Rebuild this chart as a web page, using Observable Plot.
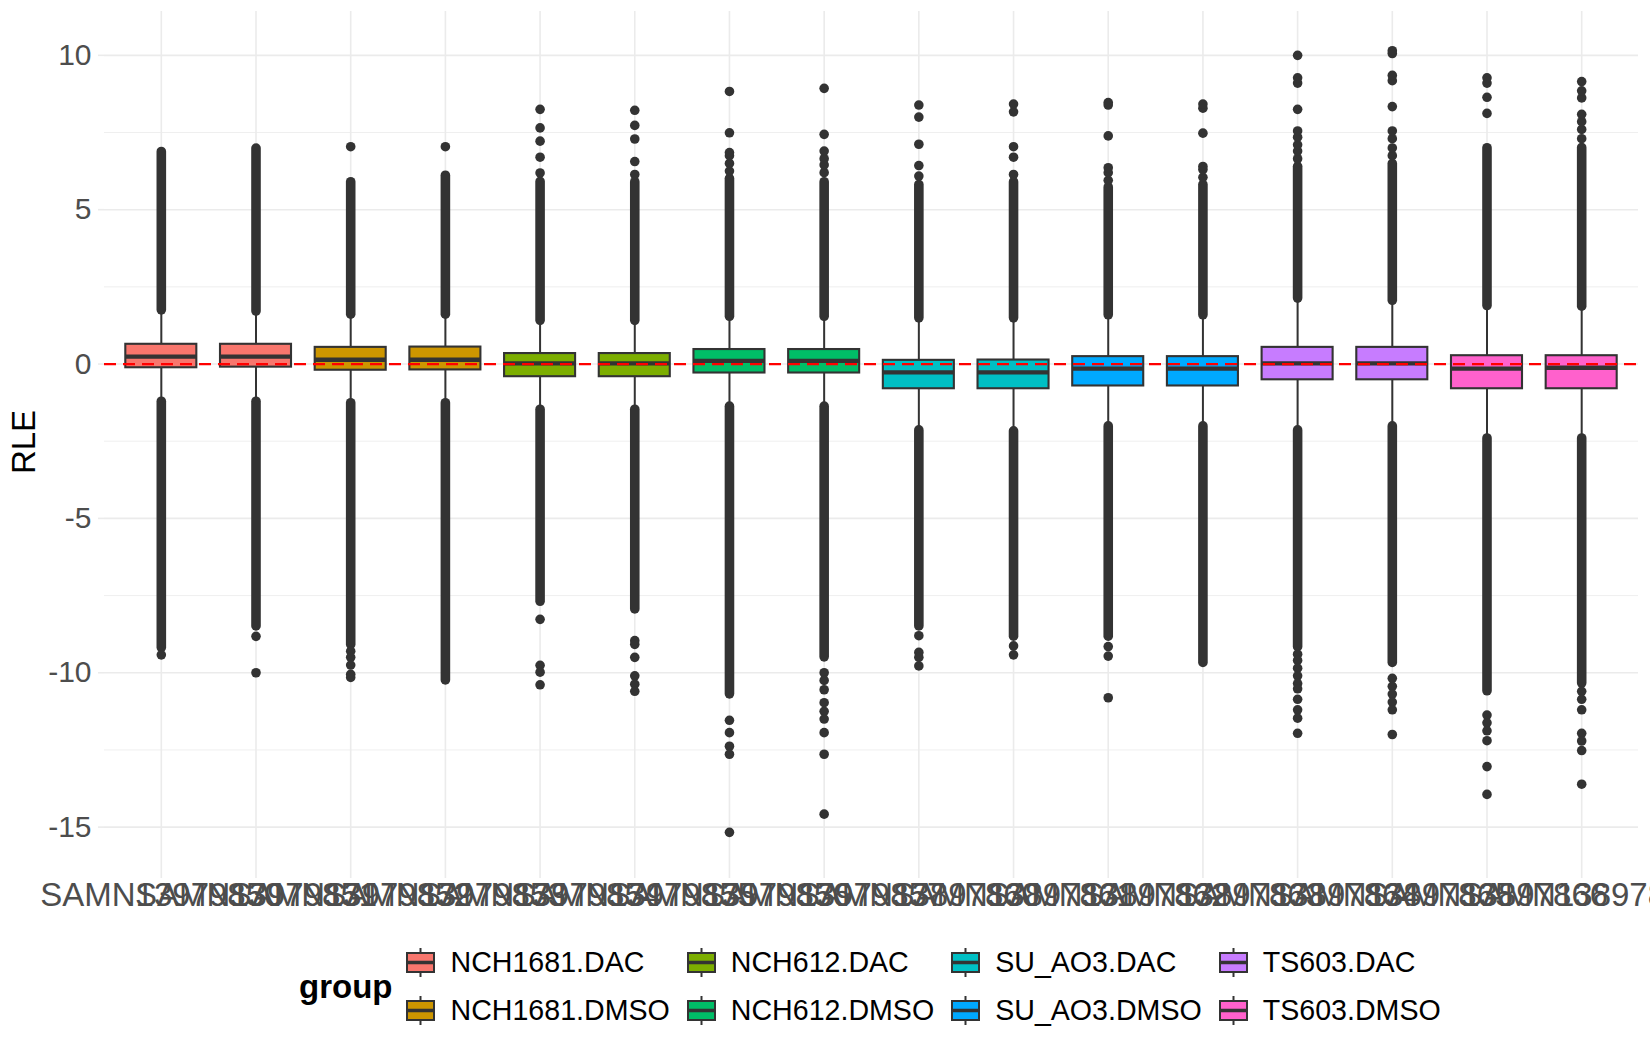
<!DOCTYPE html>
<html>
<head>
<meta charset="utf-8">
<script src="https://cdn.jsdelivr.net/npm/d3@7"></script>
<script src="https://cdn.jsdelivr.net/npm/@observablehq/plot@0.6"></script>
<style>
  html, body { margin: 0; padding: 0; background: #ffffff; overflow: hidden; }
  body { width: 1650px; height: 1050px; font-family: "Liberation Sans", Arial, sans-serif; }
  #legend { display: flex; align-items: center; padding-left: 299px; margin-top: 26px; }
  #legend .title { font-weight: bold; font-size: 33px; color: #000; margin-right: 14px; }
  #legend .grid { display: grid; grid-template-rows: 29px 29px; grid-auto-flow: column; column-gap: 17px; row-gap: 19px; }
  #legend .item { display: flex; align-items: center; height: 29px; }
  #legend .item svg { flex: none; }
  #legend .item span { font-size: 28.6px; color: #000; margin-left: 15px; white-space: nowrap; }
</style>
</head>
<body>
<div id="chart"></div>
<div id="legend"></div>
<script>
// ---- data ----
const samples = ["SAMN13979850","SAMN13979851","SAMN13979852","SAMN13979853","SAMN13979854","SAMN13979855","SAMN13979856","SAMN13979857",
                 "SAMN13897860","SAMN13897861","SAMN13897862","SAMN13897863","SAMN13897864","SAMN13897865","SAMN13897866","SAMN13897867"];
const groupNames = ["NCH1681.DAC","NCH1681.DMSO","NCH612.DAC","NCH612.DMSO","SU_AO3.DAC","SU_AO3.DMSO","TS603.DAC","TS603.DMSO"];
const groupColors = ["#F8766D","#CD9600","#7CAE00","#00BE67","#00BFC4","#00A9FF","#C77CFF","#FF61CC"];
const sampleGroup = ["NCH1681.DAC","NCH1681.DAC","NCH1681.DMSO","NCH1681.DMSO","NCH612.DAC","NCH612.DAC","NCH612.DMSO","NCH612.DMSO",
                     "SU_AO3.DAC","SU_AO3.DAC","SU_AO3.DMSO","SU_AO3.DMSO","TS603.DAC","TS603.DAC","TS603.DMSO","TS603.DMSO"];
const q1      = [-0.12,-0.10,-0.20,-0.19,-0.41,-0.41,-0.29,-0.29,-0.80,-0.80,-0.71,-0.71,-0.51,-0.51,-0.80,-0.80];
const median  = [ 0.24, 0.24, 0.14, 0.14, 0.02, 0.02, 0.10, 0.10,-0.27,-0.27,-0.15,-0.15, 0.02, 0.02,-0.15,-0.12];
const q3      = [ 0.64, 0.64, 0.54, 0.55, 0.34, 0.34, 0.47, 0.47, 0.12, 0.13, 0.24, 0.24, 0.54, 0.54, 0.27, 0.27];
const whiskerLow  = [-1.13,-1.13,-1.18,-1.18,-1.39,-1.39,-1.29,-1.29,-2.06,-2.09,-1.93,-1.93,-2.06,-1.93,-2.32,-2.32];
const whiskerHigh = [ 1.66, 1.61, 1.52, 1.52, 1.32, 1.32, 1.44, 1.44, 1.40, 1.40, 1.49, 1.49, 2.03, 1.96, 1.79, 1.77];
// outlier ranges so dense that the points merge into a solid column
const upperDense = [[1.74,6.87],[1.70,6.98],[1.60,5.89],[1.60,6.10],[1.40,5.90],[1.40,5.89],[1.53,6.00],[1.53,5.89],
                    [1.48,5.80],[1.48,5.89],[1.58,5.72],[1.58,5.80],[2.12,6.39],[2.05,6.48],[1.88,6.99],[1.86,7.00]];
const lowerDense = [[-9.20,-1.22],[-8.50,-1.22],[-9.10,-1.27],[-10.25,-1.27],[-7.70,-1.48],[-7.95,-1.48],[-10.70,-1.38],[-9.50,-1.38],
                    [-8.50,-2.15],[-8.83,-2.18],[-8.83,-2.02],[-9.68,-2.02],[-9.17,-2.15],[-9.68,-2.02],[-10.60,-2.41],[-10.35,-2.41]];
// isolated outliers
const sparseOutliers = [
  [-9.42],
  [-8.82,-10.0],
  [7.04,-9.3,-9.5,-9.75,-10.05,-10.15],
  [7.04],
  [6.19,6.7,7.22,7.65,8.25,-8.27,-9.76,-9.98,-10.39],
  [6.14,6.56,7.29,7.73,8.22,-8.96,-9.08,-9.5,-10.1,-10.37,-10.6],
  [6.25,6.5,6.75,6.85,7.49,8.83,-11.54,-11.94,-12.38,-12.64,-15.17],
  [6.2,6.45,6.65,6.9,7.44,8.93,-10.0,-10.25,-10.55,-10.97,-11.25,-11.5,-11.94,-12.64,-14.58],
  [6.09,6.43,7.12,8.0,8.39,-8.8,-9.34,-9.5,-9.78],
  [6.14,6.7,7.04,8.17,8.42,-9.13,-9.42],
  [5.95,6.2,6.36,7.39,8.39,8.47,-9.15,-9.46,-10.81],
  [6.05,6.3,6.4,7.48,8.29,8.42],
  [6.65,6.9,7.1,7.35,7.55,8.25,9.1,9.27,10.0,-9.4,-9.6,-9.85,-10.1,-10.35,-10.52,-10.86,-11.2,-11.47,-11.96],
  [6.75,7.0,7.3,7.55,8.34,9.18,9.35,10.06,10.15,-10.18,-10.44,-10.69,-10.95,-11.2,-12.0],
  [8.12,8.64,9.1,9.27,-11.37,-11.62,-11.88,-12.2,-13.04,-13.94],
  [7.3,7.6,7.85,8.09,8.62,8.85,9.15,-10.6,-10.86,-11.2,-11.96,-12.21,-12.52,-13.61]
];
const yMajor = [-15,-10,-5,0,5,10];
const yMinor = [-12.5,-7.5,-2.5,2.5,7.5];
const yDomain = [-16.47, 11.42];
const referenceLine = [0];

// ---- tables for Plot ----
const boxes = samples.map((s, i) => ({
  sample: s, group: sampleGroup[i], q1: q1[i], med: median[i], q3: q3[i], lo: whiskerLow[i], hi: whiskerHigh[i]
}));
const dense = samples.flatMap((s, i) => [
  {sample: s, lo: upperDense[i][0], hi: upperDense[i][1]},
  {sample: s, lo: lowerDense[i][0], hi: lowerDense[i][1]}
]);
const points = samples.flatMap((s, i) => sparseOutliers[i].map(v => ({sample: s, value: v})));

const dark = "#333333";
const gridColor = "#EBEBEB";

const chart = Plot.plot({
  width: 1650,
  height: 922,
  marginLeft: 104,
  marginRight: 12,
  marginTop: 11,
  marginBottom: 50,
  style: {fontFamily: "'Liberation Sans', Arial, sans-serif", background: "white", overflow: "visible"},
  x: {type: "band", domain: samples, paddingInner: 0.25, paddingOuter: 0.225, round: false, label: null},
  y: {domain: yDomain, label: null},
  color: {domain: groupNames, range: groupColors},
  marks: [
    Plot.ruleY(yMinor, {stroke: gridColor, strokeWidth: 0.8}),
    Plot.ruleY(yMajor, {stroke: gridColor, strokeWidth: 1.6}),
    Plot.ruleX(samples, {x: d => d, stroke: gridColor, strokeWidth: 1.6}),
    Plot.axisY(yMajor, {tickSize: 6, stroke: gridColor, strokeWidth: 1.6, tickPadding: 7, fill: "#4D4D4D",
                        fontSize: 30, tickFormat: d => String(d), label: null}),
    Plot.axisX({tickSize: 6, stroke: gridColor, strokeWidth: 1.6, tickPadding: 4, fill: "#4D4D4D",
                fontSize: 33, label: null}),
    Plot.text(["RLE"], {text: d => d, frameAnchor: "left", textAnchor: "middle", dx: -80.5, rotate: -90, fontSize: 33, fill: "black"}),
    Plot.ruleX(boxes, {x: "sample", y1: "q3", y2: "hi", stroke: dark, strokeWidth: 2}),
    Plot.ruleX(boxes, {x: "sample", y1: "lo", y2: "q1", stroke: dark, strokeWidth: 2}),
    Plot.ruleX(dense, {x: "sample", y1: "lo", y2: "hi", stroke: dark, strokeWidth: 9.6, strokeLinecap: "round"}),
    Plot.dot(points, {x: "sample", y: "value", r: 4.8, fill: dark, stroke: "none"}),
    Plot.barY(boxes, {x: "sample", y1: "q1", y2: "q3", fill: "group", stroke: dark, strokeWidth: 2.1}),
    Plot.tickY(boxes, {x: "sample", y: "med", stroke: dark, strokeWidth: 4.3}),
    Plot.ruleY(referenceLine, {stroke: "red", strokeWidth: 2.3, strokeDasharray: "12,7"})
  ]
});
document.getElementById("chart").appendChild(chart);

// ---- legend ----
const legend = document.getElementById("legend");
const title = document.createElement("div");
title.className = "title";
title.textContent = "group";
legend.appendChild(title);
const grid = document.createElement("div");
grid.className = "grid";
groupNames.forEach((g, i) => {
  const item = document.createElement("div");
  item.className = "item";
  item.innerHTML =
    `<svg width="29" height="29" viewBox="0 0 29 29">
       <line x1="14.5" x2="14.5" y1="0" y2="29" stroke="${dark}" stroke-width="2"/>
       <rect x="1" y="5" width="27" height="19" fill="${groupColors[i]}" stroke="${dark}" stroke-width="2"/>
       <line x1="1" x2="28" y1="14.5" y2="14.5" stroke="${dark}" stroke-width="3.5"/>
     </svg><span>${g}</span>`;
  grid.appendChild(item);
});
legend.appendChild(grid);
</script>
</body>
</html>
